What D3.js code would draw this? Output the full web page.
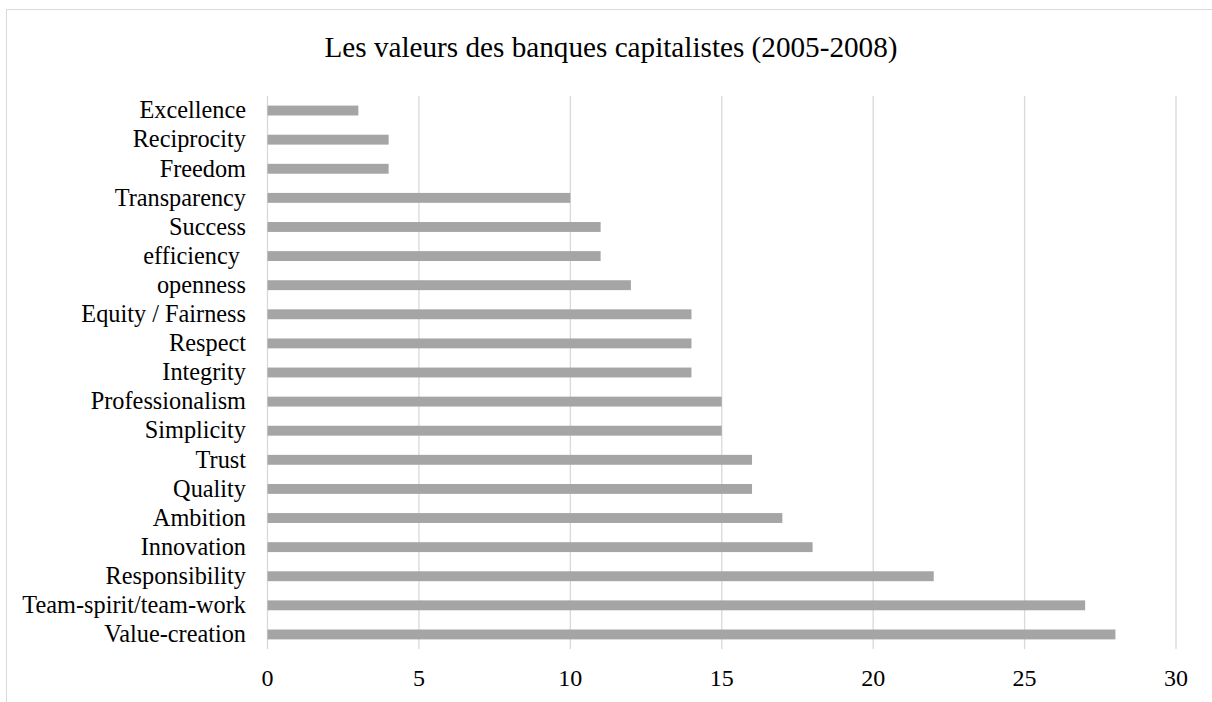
<!DOCTYPE html>
<html>
<head>
<meta charset="utf-8">
<script src="https://cdn.jsdelivr.net/npm/d3@7"></script>
<style>
  html, body { margin: 0; padding: 0; background: #fff; }
  svg { display: block; }
  text { font-family: "Liberation Serif", "Times New Roman", serif; fill: #000; }
</style>
</head>
<body>
<svg id="chart" width="1212" height="702"></svg>
<script>
const title = "Les valeurs des banques capitalistes (2005-2008)";
const categories = [
  "Excellence", "Reciprocity", "Freedom", "Transparency", "Success",
  "efficiency ", "openness", "Equity / Fairness", "Respect", "Integrity",
  "Professionalism", "Simplicity", "Trust", "Quality", "Ambition",
  "Innovation", "Responsibility", "Team-spirit/team-work", "Value-creation"
];
const values = [3, 4, 4, 10, 11, 11, 12, 14, 14, 14, 15, 15, 16, 16, 17, 18, 22, 27, 28];
const xTicks = [0, 5, 10, 15, 20, 25, 30];

const svg = d3.select("#chart");
const W = 1212, H = 702;

// outer chart border
svg.append("rect")
  .attr("x", 6.5).attr("y", 9.5)
  .attr("width", W).attr("height", H)
  .attr("fill", "none").attr("stroke", "#d9d9d9").attr("stroke-width", 1);

const x = d3.scaleLinear().domain([0, 30]).range([267.5, 1176]);
const y = d3.scaleBand().domain(categories).range([96, 649]).padding(0);
const barH = y.bandwidth() * 0.34;

// title
svg.append("text")
  .attr("x", 611).attr("y", 57)
  .attr("text-anchor", "middle")
  .style("font-size", "29.2px")
  .text(title);

// gridlines
svg.append("g").selectAll("line")
  .data(xTicks).join("line")
  .attr("x1", d => x(d)).attr("x2", d => x(d))
  .attr("y1", 96).attr("y2", 649)
  .attr("stroke", "#d9d9d9").attr("stroke-width", 1.3);

// bars
svg.append("g").selectAll("rect")
  .data(categories.map((c, i) => ({ c, v: values[i] })))
  .join("rect")
  .attr("x", x(0))
  .attr("y", d => y(d.c) + (y.bandwidth() - barH) / 2)
  .attr("width", d => x(d.v) - x(0))
  .attr("height", barH)
  .attr("fill", "#a5a5a5");

// category labels
svg.append("g").selectAll("text")
  .data(categories).join("text")
  .attr("x", 246)
  .attr("y", d => y(d) + y.bandwidth() / 2)
  .attr("dy", "0.32em")
  .attr("text-anchor", "end")
  .style("font-size", "24.3px")
  .style("white-space", "pre")
  .text(d => d);

// x tick labels
svg.append("g").selectAll("text")
  .data(xTicks).join("text")
  .attr("x", d => x(d))
  .attr("y", 686)
  .attr("text-anchor", "middle")
  .style("font-size", "24px")
  .text(d => d);
</script>
</body>
</html>
